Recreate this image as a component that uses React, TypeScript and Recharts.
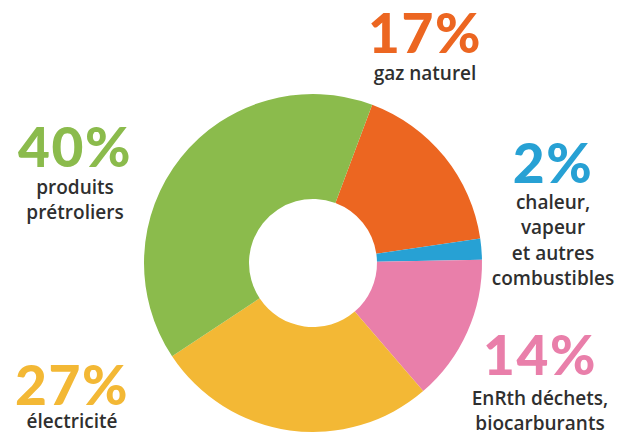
import { Cell, Pie, PieChart } from "recharts";

const categories = [
  "gaz naturel",
  "chaleur, vapeur et autres combustibles",
  "EnRth déchets, biocarburants",
  "électricité",
  "produits prétroliers",
];
const shares = [17, 2, 14, 27, 40];
const labelLines = [
  ["gaz naturel"],
  ["chaleur,", "vapeur", "et autres", "combustibles"],
  ["EnRth déchets,", "biocarburants"],
  ["électricité"],
  ["produits", "prétroliers"],
];

const colors = ["#EC6621", "#27A1D4", "#E97FAA", "#F3B835", "#8BBB4C"];

// where each callout sits: center x, percent baseline, first text line baseline
const calloutPos = [
  { x: 425, pctY: 53, textY: 80 },
  { x: 553, pctY: 183, textY: 209 },
  { x: 540, pctY: 375, textY: 405 },
  { x: 72, pctY: 405, textY: 428 },
  { x: 75, pctY: 167, textY: 194 },
];

const data = categories.map((name, i) => ({ name, value: shares[i] }));

function Callout(props: any) {
  const i = props.index;
  const pos = calloutPos[i];
  return (
    <g>
      <text
        x={pos.x}
        y={pos.pctY}
        textAnchor="middle"
        fill={colors[i]}
        fontFamily="Lato, sans-serif"
        fontWeight={900}
        fontSize={55}
        letterSpacing={1.5}
      >
        {shares[i]}%
      </text>
      {labelLines[i].map((line, j) => (
        <text
          key={j}
          x={pos.x}
          y={pos.textY + j * 25.3}
          textAnchor="middle"
          fill="#2f2f2f"
          fontFamily="'Open Sans', sans-serif"
          fontWeight={600}
          fontSize={19}
        >
          {line}
        </text>
      ))}
    </g>
  );
}

export default function App() {
  return (
    <div
      style={{
        position: "absolute",
        left: 0,
        top: 0,
        width: 629,
        height: 434,
        background: "#fff",
      }}
    >
      <PieChart width={629} height={434} margin={{ top: 0, right: 0, bottom: 0, left: 0 }}>
        <Pie
          data={data}
          dataKey="value"
          nameKey="name"
          cx={313}
          cy={263}
          innerRadius={64}
          outerRadius={169}
          startAngle={69.5}
          endAngle={-290.5}
          stroke="none"
          label={Callout}
          labelLine={false}
          isAnimationActive={false}
        >
          {data.map((d, i) => (
            <Cell key={d.name} fill={colors[i]} />
          ))}
        </Pie>
      </PieChart>
    </div>
  );
}
